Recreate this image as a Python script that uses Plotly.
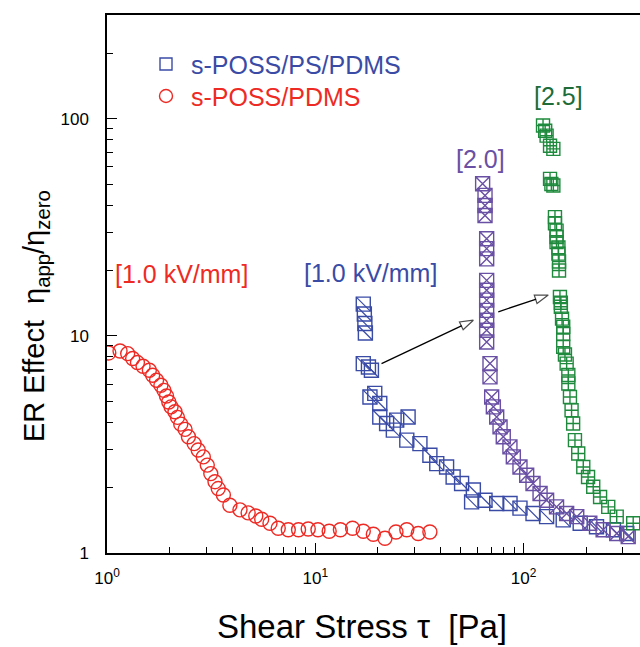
import plotly.graph_objects as go
import math

# ---------------- data ----------------
red_x = [1.02, 1.155, 1.257, 1.328, 1.40, 1.49, 1.597, 1.657, 1.73, 1.815, 1.877, 1.93,
         1.98, 2.03, 2.12, 2.18, 2.26, 2.37, 2.46, 2.62, 2.74, 2.90, 3.03, 3.15, 3.30,
         3.42, 3.62, 3.89, 4.35, 4.76, 5.18, 5.53, 6.06, 6.64, 7.42, 8.31, 9.25, 10.3,
         11.66, 13.2, 15.1, 17.0, 19.0, 21.6, 24.4, 27.5, 31.2, 35.5]
red_y = [8.34, 8.51, 8.28, 7.86, 7.53, 7.24, 6.94, 6.58, 6.24, 5.92, 5.61, 5.28,
         4.96, 4.71, 4.47, 4.21, 3.92, 3.71, 3.43, 3.19, 2.98, 2.77, 2.54, 2.32, 2.13,
         1.98, 1.85, 1.66, 1.58, 1.53, 1.48, 1.43, 1.37, 1.30, 1.28, 1.28, 1.29, 1.28,
         1.26, 1.28, 1.30, 1.26, 1.22, 1.17, 1.25, 1.28, 1.23, 1.25]

blue_x = [17.0, 17.2, 17.3, 17.4, 17.0, 18.0, 18.6, 18.3, 19.3, 20.4, 20.4, 22.0, 24.6,
          27.9, 23.7, 27.5, 31.8, 35.5, 38.3, 42.7, 45.9, 50.4, 57.4, 56.3, 65.3, 74.3,
          86.1, 96.1, 111, 129, 155, 187, 224, 270, 313]
blue_y = [14.0, 12.6, 11.4, 10.3, 7.45, 7.19, 6.94, 5.23, 5.43, 4.88, 4.23, 3.95, 4.09,
          4.23, 3.68, 3.31, 3.19, 2.82, 2.58, 2.49, 2.24, 2.09, 1.95, 1.72, 1.75, 1.69,
          1.69, 1.61, 1.52, 1.47, 1.42, 1.37, 1.32, 1.28, 1.23]

purple_x = [63.6, 65.3, 65.3, 65.3, 66.5, 66.5, 66.5, 66.5, 66.5, 66.5, 66.5, 66.5, 66.5,
            66.5, 69.0, 69.0, 70.3, 71.6, 74.3, 77.1, 79.9, 86.0, 89.3, 96.1, 103.5, 111,
            120, 129, 144, 161, 180, 208, 241, 280, 318]
purple_y = [50.1, 44.3, 39.8, 35.8, 28.0, 25.2, 22.6, 18.0, 16.2, 14.6, 13.1, 11.8, 10.6,
            9.36, 7.45, 6.47, 5.23, 4.71, 4.23, 3.81, 3.43, 3.08, 2.77, 2.49, 2.28, 2.09,
            1.88, 1.75, 1.63, 1.52, 1.47, 1.37, 1.28, 1.23, 1.19]

green_x = [124, 127, 129, 134, 139, 134, 136, 139, 141.5, 141.5, 144, 144, 144, 147, 147,
           148, 148, 149.5, 151, 151, 153, 155, 155, 155, 158, 161, 164, 164, 167, 170,
           173, 176.5, 183, 193.5, 204, 216, 233, 255, 280, 336]
green_y = [93, 88, 83.5, 75, 72.6, 52.8, 50, 49.2, 35.2, 33, 30.5, 28.5, 27, 25.5, 23.9,
           22, 20, 15.1, 14.2, 13.6, 12, 11, 10.2, 8.9, 8.2, 7.45, 6.6, 6.03, 5.23, 4.54,
           3.95, 3.31, 2.87, 2.49, 2.24, 2.02, 1.81, 1.63, 1.47, 1.37]

arrow1_x = [20.8, 57.4]
arrow1_y = [7.45, 11.8]
arrow2_x = [75.6, 131.4]
arrow2_y = [12.9, 15.4]

x_tickvals = [1, 10, 100]
x_ticktext = ["10<sup>0</sup>", "10<sup>1</sup>", "10<sup>2</sup>"]
y_tickvals = [1, 10, 100]
y_ticktext = ["1", "10", "100"]
minor_vals = [2, 3, 4, 5, 6, 7, 8, 9, 20, 30, 40, 50, 60, 70, 80, 90, 200, 300]

legend_names = ["s-POSS/PS/PDMS", "s-POSS/PDMS"]
labels = ["[1.0 kV/mm]", "[1.0 kV/mm]", "[2.0]", "[2.5]"]

# ---------------- styling ----------------
FONT = "Liberation Sans, Arial, Helvetica, sans-serif"
BLUE = "#3a4ba6"
PURPLE = "#6a50a4"
GREEN = "#1f8a3d"
GREEN_TXT = "#1d6c39"
RED = "#ee2a24"

fig = go.Figure()

fig.add_trace(go.Scatter(x=red_x, y=red_y, mode="markers",
                         marker=dict(symbol="circle-open", size=14, color=RED,
                                     line=dict(width=1.4, color=RED)),
                         showlegend=False))
fig.add_trace(go.Scatter(x=blue_x, y=blue_y, mode="markers",
                         marker=dict(symbol="square-open", size=14, color=BLUE,
                                     line=dict(width=1.4, color=BLUE)),
                         showlegend=False))
fig.add_trace(go.Scatter(x=blue_x, y=blue_y, mode="markers",
                         marker=dict(symbol="line-nw", size=14, color=BLUE,
                                     line=dict(width=1.2, color=BLUE)),
                         showlegend=False))
fig.add_trace(go.Scatter(x=purple_x, y=purple_y, mode="markers",
                         marker=dict(symbol="square-x-open", size=14, color=PURPLE,
                                     line=dict(width=1.4, color=PURPLE)),
                         showlegend=False))
fig.add_trace(go.Scatter(x=green_x, y=green_y, mode="markers",
                         marker=dict(symbol="square-cross-open", size=13, color=GREEN,
                                     line=dict(width=1.4, color=GREEN)),
                         showlegend=False))

for ax_, ay_ in [(arrow1_x, arrow1_y), (arrow2_x, arrow2_y)]:
    fig.add_trace(go.Scatter(x=ax_, y=ay_, mode="lines+markers",
                             line=dict(color="black", width=1.3),
                             marker=dict(symbol=["circle", "arrow"], size=[0, 14],
                                         angleref="previous", color="white",
                                         line=dict(color="black", width=1.2)),
                             showlegend=False, hoverinfo="skip"))

W, H = 640, 647
L, R, T, B = 107, 0, 15, 94
pw, ph = W - L - R, H - T - B


def px2paper(px, py):
    return (px - L) / pw, (H - B - py) / ph


axis_common = dict(type="log", showgrid=False, zeroline=False, showline=True,
                   linecolor="black", linewidth=1.5, ticks="inside", ticklen=10,
                   tickwidth=1.3, tickcolor="black",
                   tickfont=dict(family=FONT, size=17, color="black"))

fig.update_xaxes(**axis_common, range=[0, 2.559], mirror=True,
                 tickmode="array", tickvals=x_tickvals, ticktext=x_ticktext,
                 ticklabelstandoff=9,
                 minor=dict(ticks="inside", ticklen=6, tickwidth=1.1, tickcolor="black",
                            tickmode="array", tickvals=minor_vals, showgrid=False))
fig.update_yaxes(**axis_common, range=[0, math.log10(300)], mirror=False,
                 tickmode="array", tickvals=y_tickvals, ticktext=y_ticktext,
                 ticklabelstandoff=13,
                 minor=dict(ticks="inside", ticklen=6, tickwidth=1.1, tickcolor="black",
                            tickmode="array", tickvals=minor_vals, showgrid=False))

annotations = []
# axis titles
tx, ty = px2paper(362, 627)
annotations.append(dict(text="Shear Stress τ &nbsp;[Pa]", xref="paper", yref="paper",
                        x=tx, y=ty, xanchor="center", yanchor="middle", showarrow=False,
                        font=dict(family=FONT, size=33, color="black")))
tx, ty = px2paper(36, 316)
annotations.append(dict(
    text="ER Effect &nbsp;η<sub>app</sub>/η<sub>zero</sub>",
    xref="paper", yref="paper", x=tx, y=ty, textangle=-90,
    xanchor="center", yanchor="middle", showarrow=False,
    font=dict(family=FONT, size=29, color="black")))
# legend
for name, col, py in [(legend_names[0], BLUE, 65), (legend_names[1], RED, 97)]:
    tx, ty = px2paper(190, py)
    annotations.append(dict(text=name, xref="paper", yref="paper", x=tx, y=ty,
                            xanchor="left", yanchor="middle", showarrow=False, borderpad=0,
                            font=dict(family=FONT, size=25, color=col)))
# series labels (positions in log10 data units)
for txt, col, lx, ly in [(labels[0], RED, 0.360, 1.283), (labels[1], BLUE, 1.263, 1.287),
                         (labels[2], PURPLE, 1.791, 1.816), (labels[3], GREEN_TXT, 2.170, 2.106)]:
    annotations.append(dict(text=txt, xref="x", yref="y", x=lx, y=ly,
                            xanchor="center", yanchor="middle", showarrow=False,
                            font=dict(family=FONT, size=25, color=col)))

shapes = []
sx, sy = px2paper(166, 64)
shapes.append(dict(type="rect", xref="paper", yref="paper", xsizemode="pixel",
                   ysizemode="pixel", xanchor=sx, yanchor=sy, x0=-6, x1=6, y0=-6, y1=6,
                   line=dict(color=BLUE, width=1.4)))
sx, sy = px2paper(166, 96)
shapes.append(dict(type="circle", xref="paper", yref="paper", xsizemode="pixel",
                   ysizemode="pixel", xanchor=sx, yanchor=sy, x0=-6.5, x1=6.5, y0=-6.5,
                   y1=6.5, line=dict(color=RED, width=1.4)))

fig.update_layout(width=W, height=H, margin=dict(l=L, r=R, t=T, b=B),
                  paper_bgcolor="white", plot_bgcolor="white",
                  annotations=annotations, shapes=shapes, showlegend=False,
                  font=dict(family=FONT))

fig.write_html("out.html")
